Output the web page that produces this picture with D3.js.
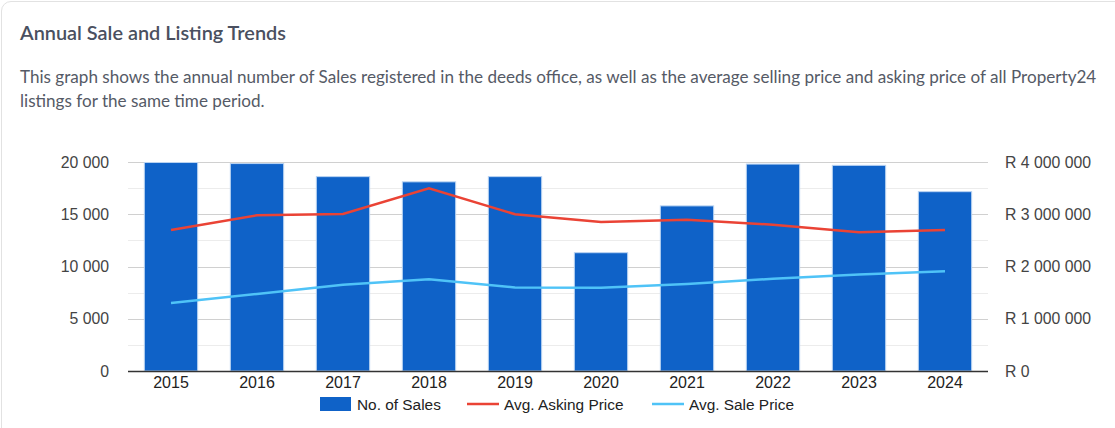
<!DOCTYPE html>
<html>
<head>
<meta charset="utf-8">
<script src="https://cdn.jsdelivr.net/npm/d3@7"></script>
<style>
  body { margin: 0; background: #fff; width: 1115px; height: 428px; overflow: hidden; }
  .card { position: absolute; left: 1px; top: 1px; width: 1130px; height: 440px;
    border: 1px solid #e2e2e2; border-radius: 10px; background: #fff; }
  .title { position: absolute; left: 20px; top: 20px; font: 600 19.9px "Lato", sans-serif; color: #4a5060; }
  .desc { position: absolute; left: 20px; top: 65px; width: 1090px; font: 17.1px/24px "Lato", sans-serif; color: #555a66; }
  svg { position: absolute; left: 0; top: 0; }
</style>
</head>
<body>
<div class="card"></div>
<div class="title">Annual Sale and Listing Trends</div>
<div class="desc">This graph shows the annual number of Sales registered in the deeds office, as well as the average selling price and asking price of all Property24 listings for the same time period.</div>
<div id="chart"></div>
<script>
(function() {
  "use strict";

  var years = ["2015", "2016", "2017", "2018", "2019", "2020", "2021", "2022", "2023", "2024"];
  var sales = [19950, 19850, 18600, 18100, 18600, 11320, 15800, 19800, 19680, 17160];
  var askingPrice = [2700000, 2980000, 3005000, 3495000, 3000000, 2850000, 2895000, 2800000, 2655000, 2700000];
  var salePrice = [1300000, 1475000, 1650000, 1755000, 1600000, 1595000, 1665000, 1765000, 1845000, 1910000];
  var leftTicks = [0, 5000, 10000, 15000, 20000];
  var rightTicks = [0, 1000000, 2000000, 3000000, 4000000];
  var legendItems = ["No. of Sales", "Avg. Asking Price", "Avg. Sale Price"];

  var width = 1115, height = 428;
  var plotLeft = 128, plotRight = 988, plotTop = 162, plotBottom = 371;
  var font = '"Liberation Sans", Arial, sans-serif';

  var locale = d3.formatLocale({decimal: ".", thousands: " ", grouping: [3], currency: ["R ", ""]});
  var fmt = locale.format(",d");

  var svg = d3.select("#chart").append("svg")
    .attr("width", width)
    .attr("height", height);

  var x = d3.scaleBand().domain(years).range([plotLeft, plotRight]).paddingInner(0.38).paddingOuter(0.19);
  var xc = function(d) { return x(d) + x.bandwidth() / 2; };
  var y = d3.scaleLinear().domain([0, 20000]).range([plotBottom, plotTop]);
  var y2 = d3.scaleLinear().domain([0, 4000000]).range([plotBottom, plotTop]);

  // minor + major grid
  var minor = d3.range(2500, 20000, 5000);
  svg.append("g").selectAll("line").data(minor).join("line")
    .attr("x1", plotLeft).attr("x2", plotRight)
    .attr("y1", function(d) { return Math.round(y(d)) + 0.5; })
    .attr("y2", function(d) { return Math.round(y(d)) + 0.5; })
    .attr("stroke", "#ececec");
  svg.append("g").selectAll("line").data(leftTicks.slice(1)).join("line")
    .attr("x1", plotLeft).attr("x2", plotRight)
    .attr("y1", function(d) { return Math.round(y(d)) + 0.5; })
    .attr("y2", function(d) { return Math.round(y(d)) + 0.5; })
    .attr("stroke", "#d0d0d0");

  // bars
  svg.append("g").selectAll("rect").data(sales).join("rect")
    .attr("x", function(d, i) { return x(years[i]); })
    .attr("y", function(d) { return y(d); })
    .attr("width", x.bandwidth())
    .attr("height", function(d) { return plotBottom - y(d); })
    .attr("fill", "#0f62c8")
    .attr("stroke", "#b9d3f2")
    .attr("stroke-width", 1);

  // baseline
  svg.append("line")
    .attr("x1", plotLeft).attr("x2", plotRight)
    .attr("y1", plotBottom + 0.5).attr("y2", plotBottom + 0.5)
    .attr("stroke", "#333").attr("stroke-width", 1.5);

  var line = d3.line().x(function(d, i) { return xc(years[i]); }).y(function(d) { return y2(d); });
  svg.append("path").datum(askingPrice)
    .attr("d", line).attr("fill", "none")
    .attr("stroke", "#ea4335").attr("stroke-width", 2.5);
  svg.append("path").datum(salePrice)
    .attr("d", line).attr("fill", "none")
    .attr("stroke", "#4fc3f7").attr("stroke-width", 2.5);

  // axes
  var leftAxis = svg.append("g").attr("transform", "translate(" + (plotLeft - 16) + ",0)")
    .call(d3.axisLeft(y).tickValues(leftTicks).tickFormat(fmt).tickSize(0));
  var rightAxis = svg.append("g").attr("transform", "translate(" + (plotRight + 14) + ",0)")
    .call(d3.axisRight(y2).tickValues(rightTicks).tickFormat(function(d) { return "R " + fmt(d); }).tickSize(0));
  var bottomAxis = svg.append("g").attr("transform", "translate(0," + plotBottom + ")")
    .call(d3.axisBottom(x).tickSize(0).tickPadding(6));
  [leftAxis, rightAxis, bottomAxis].forEach(function(a) {
    a.select(".domain").remove();
    a.attr("font-size", null).attr("font-family", null);
    a.selectAll("text").attr("fill", "#444").style("font-size", "15.8px").style("font-family", font);
  });
  bottomAxis.selectAll("text").attr("fill", "#222").style("font-size", "16px");

  // legend
  var legend = svg.append("g").attr("transform", "translate(0,404)");
  var lx = [320, 467, 652];
  legend.append("rect").attr("x", lx[0]).attr("y", -7).attr("width", 31).attr("height", 14).attr("fill", "#0f62c8");
  legend.append("line").attr("x1", lx[1]).attr("x2", lx[1] + 32).attr("y1", 0).attr("y2", 0)
    .attr("stroke", "#ea4335").attr("stroke-width", 2.5);
  legend.append("line").attr("x1", lx[2]).attr("x2", lx[2] + 32).attr("y1", 0).attr("y2", 0)
    .attr("stroke", "#4fc3f7").attr("stroke-width", 2.5);
  legend.selectAll("text").data(legendItems).join("text")
    .attr("x", function(d, i) { return lx[i] + 37; })
    .attr("y", 5.5)
    .attr("fill", "#222")
    .style("font-size", "15.4px")
    .style("font-family", font)
    .text(function(d) { return d; });
})();
</script>
</body>
</html>
